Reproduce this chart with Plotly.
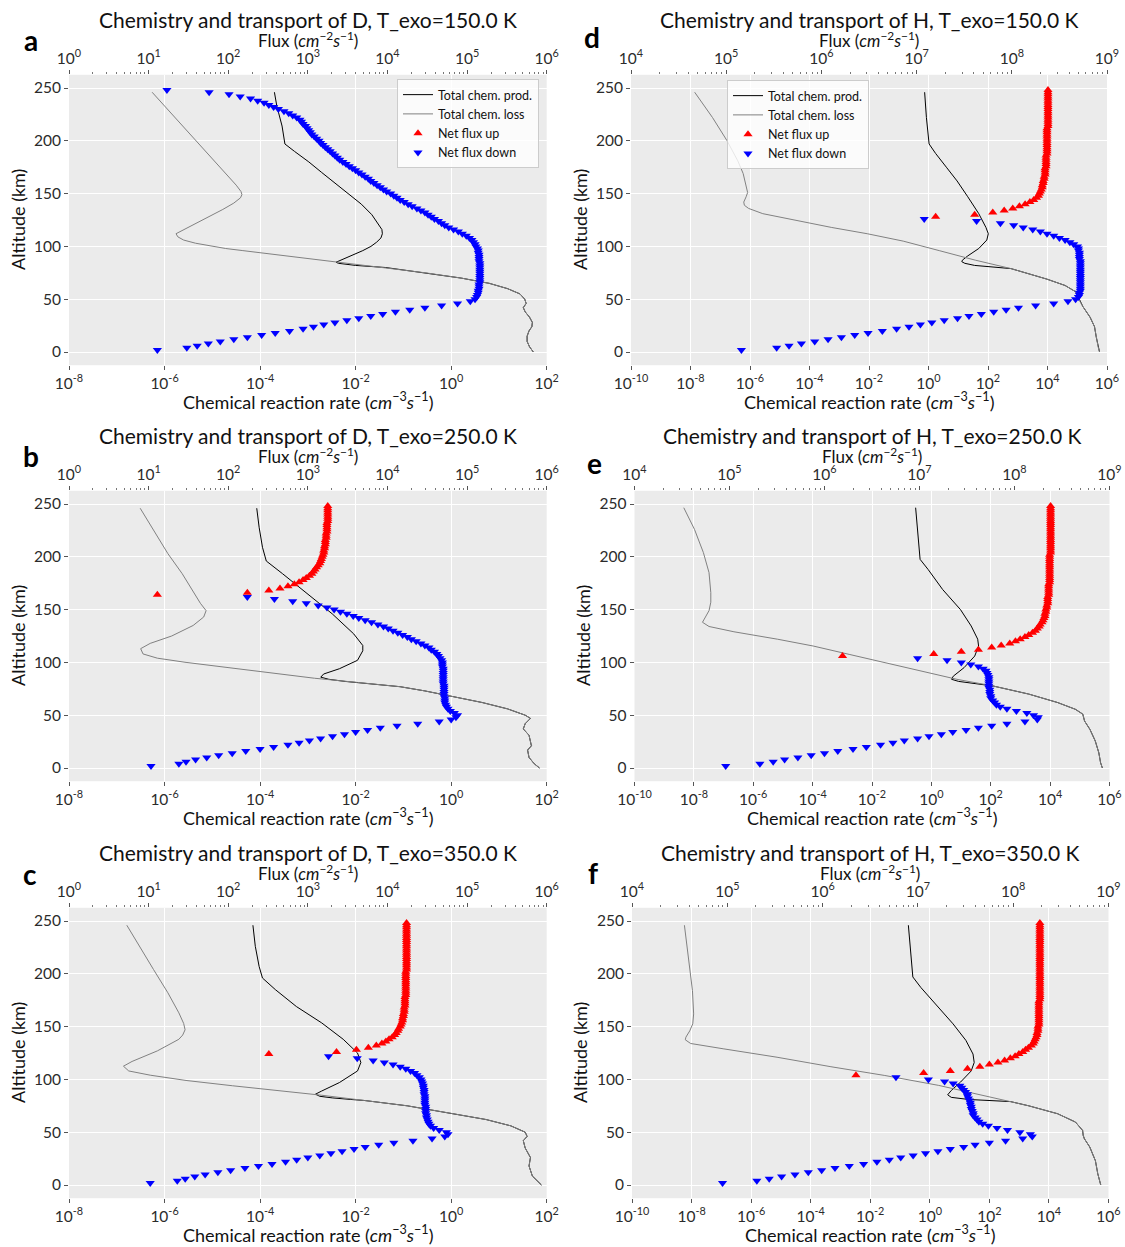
import numpy as np
import plotly.graph_objects as go

FIG_W, FIG_H = 1125, 1247
FONT = "Lato"
INK = "#111111"
TICK_INK = "#2b2b2b"
TICK_MARK = "#555555"
PANEL_BG = "#EBEBEB"

# Model altitude grid for the net-flux profiles (km)
ALT_KM = np.arange(2, 250, 2)

# log10 |net flux| (cm^-2 s^-1) on ALT_KM; flux is upward at and above *_UP_FROM_KM
LOGFLUX_D150 = [
    1.11, 1.48, 1.61, 1.75, 1.90, 2.07, 2.24, 2.42, 2.59, 2.77,
    2.94, 3.07, 3.20, 3.34, 3.49, 3.64, 3.79, 3.94, 4.10, 4.28,
    4.47, 4.68, 4.88, 5.04, 5.10, 5.12, 5.13, 5.14, 5.14, 5.15,
    5.15, 5.15, 5.16, 5.16, 5.16, 5.16, 5.16, 5.16, 5.16, 5.16,
    5.16, 5.16, 5.15, 5.15, 5.15, 5.15, 5.14, 5.14, 5.13, 5.11,
    5.10, 5.08, 5.06, 5.03, 4.99, 4.94, 4.89, 4.83, 4.77, 4.72,
    4.68, 4.64, 4.59, 4.55, 4.51, 4.47, 4.42, 4.37, 4.31, 4.26,
    4.21, 4.16, 4.12, 4.08, 4.04, 3.99, 3.95, 3.91, 3.87, 3.83,
    3.79, 3.76, 3.72, 3.68, 3.64, 3.60, 3.56, 3.52, 3.48, 3.44,
    3.40, 3.37, 3.34, 3.31, 3.28, 3.25, 3.22, 3.19, 3.16, 3.14,
    3.11, 3.08, 3.05, 3.03, 3.01, 2.99, 2.97, 2.94, 2.92, 2.90,
    2.86, 2.81, 2.76, 2.70, 2.63, 2.57, 2.51, 2.45, 2.37, 2.28,
    2.15, 2.01, 1.76, 1.23]
D150_UP_FROM_KM = None

LOGFLUX_D250 = [
    1.03, 1.38, 1.47, 1.59, 1.73, 1.88, 2.05, 2.22, 2.40, 2.57,
    2.75, 2.89, 3.02, 3.16, 3.31, 3.46, 3.60, 3.75, 3.91, 4.12,
    4.38, 4.65, 4.80, 4.86, 4.88, 4.84, 4.79, 4.76, 4.74, 4.73,
    4.72, 4.72, 4.72, 4.71, 4.71, 4.71, 4.71, 4.71, 4.71, 4.70,
    4.70, 4.70, 4.70, 4.70, 4.70, 4.70, 4.70, 4.69, 4.69, 4.69,
    4.68, 4.66, 4.64, 4.62, 4.59, 4.55, 4.52, 4.47, 4.42, 4.36,
    4.30, 4.25, 4.19, 4.13, 4.07, 4.01, 3.95, 3.88, 3.80, 3.72,
    3.64, 3.57, 3.49, 3.41, 3.33, 3.24, 3.13, 2.98, 2.81, 2.58,
    2.24, 1.11, 2.24, 2.51, 2.65, 2.75, 2.83, 2.89, 2.94, 2.98,
    3.02, 3.05, 3.07, 3.09, 3.11, 3.13, 3.15, 3.16, 3.17, 3.18,
    3.19, 3.20, 3.20, 3.21, 3.21, 3.22, 3.22, 3.22, 3.23, 3.23,
    3.23, 3.24, 3.24, 3.24, 3.24, 3.24, 3.25, 3.25, 3.25, 3.25,
    3.25, 3.25, 3.25, 3.25]
D250_UP_FROM_KM = 164

LOGFLUX_D350 = [
    1.02, 1.36, 1.46, 1.58, 1.71, 1.87, 2.03, 2.21, 2.38, 2.55,
    2.72, 2.86, 3.00, 3.15, 3.29, 3.43, 3.58, 3.72, 3.89, 4.08,
    4.32, 4.56, 4.72, 4.76, 4.74, 4.65, 4.58, 4.54, 4.52, 4.51,
    4.50, 4.49, 4.49, 4.48, 4.48, 4.48, 4.48, 4.47, 4.47, 4.47,
    4.47, 4.47, 4.46, 4.46, 4.46, 4.45, 4.45, 4.44, 4.43, 4.42,
    4.40, 4.37, 4.34, 4.29, 4.23, 4.16, 4.07, 3.96, 3.82, 3.62,
    3.26, 2.51, 3.36, 3.61, 3.76, 3.86, 3.93, 3.98, 4.02, 4.06,
    4.09, 4.11, 4.13, 4.14, 4.16, 4.17, 4.18, 4.19, 4.19, 4.20,
    4.20, 4.21, 4.21, 4.21, 4.22, 4.22, 4.22, 4.22, 4.22, 4.23,
    4.23, 4.23, 4.23, 4.23, 4.23, 4.23, 4.23, 4.23, 4.23, 4.23,
    4.23, 4.24, 4.24, 4.24, 4.24, 4.24, 4.24, 4.24, 4.24, 4.24,
    4.24, 4.24, 4.24, 4.24, 4.24, 4.24, 4.24, 4.24, 4.24, 4.24,
    4.24, 4.24, 4.24, 4.24]
D350_UP_FROM_KM = 124

LOGFLUX_H150 = [
    5.16, 5.53, 5.66, 5.79, 5.93, 6.07, 6.21, 6.35, 6.49, 6.64,
    6.79, 6.92, 7.04, 7.16, 7.29, 7.43, 7.55, 7.68, 7.81, 7.94,
    8.07, 8.25, 8.44, 8.59, 8.67, 8.70, 8.71, 8.71, 8.72, 8.72,
    8.72, 8.72, 8.72, 8.72, 8.72, 8.72, 8.72, 8.72, 8.72, 8.72,
    8.72, 8.72, 8.72, 8.71, 8.71, 8.71, 8.71, 8.70, 8.70, 8.69,
    8.65, 8.61, 8.56, 8.50, 8.44, 8.37, 8.30, 8.22, 8.12, 8.02,
    7.88, 7.63, 7.08, 7.20, 7.61, 7.80, 7.92, 8.01, 8.08, 8.14,
    8.19, 8.23, 8.26, 8.28, 8.29, 8.30, 8.31, 8.32, 8.32, 8.33,
    8.33, 8.34, 8.34, 8.35, 8.35, 8.35, 8.35, 8.36, 8.36, 8.36,
    8.36, 8.36, 8.36, 8.37, 8.37, 8.37, 8.37, 8.37, 8.37, 8.37,
    8.37, 8.37, 8.37, 8.37, 8.37, 8.37, 8.38, 8.38, 8.38, 8.38,
    8.38, 8.38, 8.38, 8.38, 8.38, 8.38, 8.38, 8.38, 8.38, 8.38,
    8.38, 8.38, 8.38, 8.38]
H150_UP_FROM_KM = 128

LOGFLUX_H250 = [
    4.96, 5.32, 5.46, 5.58, 5.72, 5.86, 6.00, 6.14, 6.30, 6.44,
    6.59, 6.72, 6.84, 6.98, 7.10, 7.23, 7.35, 7.49, 7.62, 7.76,
    7.92, 8.11, 8.24, 8.25, 8.20, 8.13, 8.02, 7.92, 7.85, 7.81,
    7.79, 7.77, 7.75, 7.75, 7.74, 7.74, 7.74, 7.73, 7.73, 7.73,
    7.73, 7.73, 7.73, 7.72, 7.71, 7.70, 7.67, 7.62, 7.54, 7.44,
    7.29, 6.98, 6.19, 7.15, 7.44, 7.62, 7.76, 7.86, 7.95, 8.01,
    8.06, 8.11, 8.15, 8.19, 8.22, 8.24, 8.26, 8.27, 8.29, 8.30,
    8.31, 8.32, 8.32, 8.33, 8.33, 8.34, 8.34, 8.35, 8.35, 8.35,
    8.35, 8.36, 8.36, 8.36, 8.36, 8.36, 8.36, 8.37, 8.37, 8.37,
    8.37, 8.37, 8.37, 8.37, 8.37, 8.37, 8.37, 8.37, 8.37, 8.37,
    8.37, 8.38, 8.38, 8.38, 8.38, 8.38, 8.38, 8.38, 8.38, 8.38,
    8.38, 8.38, 8.38, 8.38, 8.38, 8.38, 8.38, 8.38, 8.38, 8.38,
    8.38, 8.38, 8.38, 8.38]
H250_UP_FROM_KM = 106

LOGFLUX_H350 = [
    4.95, 5.31, 5.44, 5.57, 5.71, 5.85, 5.99, 6.13, 6.28, 6.43,
    6.57, 6.70, 6.82, 6.95, 7.08, 7.21, 7.34, 7.48, 7.60, 7.75,
    7.92, 8.10, 8.20, 8.18, 8.07, 7.94, 7.83, 7.74, 7.68, 7.64,
    7.62, 7.60, 7.58, 7.58, 7.57, 7.56, 7.56, 7.55, 7.55, 7.54,
    7.53, 7.52, 7.52, 7.50, 7.48, 7.46, 7.44, 7.37, 7.28, 7.11,
    6.77, 6.35, 7.06, 7.34, 7.52, 7.65, 7.75, 7.84, 7.91, 7.97,
    8.02, 8.06, 8.10, 8.13, 8.16, 8.19, 8.21, 8.22, 8.23, 8.24,
    8.25, 8.25, 8.26, 8.26, 8.26, 8.27, 8.27, 8.27, 8.27, 8.27,
    8.27, 8.27, 8.27, 8.27, 8.27, 8.27, 8.27, 8.28, 8.28, 8.28,
    8.28, 8.28, 8.28, 8.28, 8.28, 8.28, 8.28, 8.28, 8.28, 8.28,
    8.28, 8.28, 8.28, 8.28, 8.28, 8.28, 8.28, 8.28, 8.28, 8.28,
    8.28, 8.28, 8.28, 8.28, 8.28, 8.28, 8.28, 8.28, 8.28, 8.28,
    8.28, 8.28, 8.28, 8.28]
H350_UP_FROM_KM = 104

# Total chemical production / loss profiles: altitude (km) and log10 rate (cm^-3 s^-1)
PROD_ALT_D150 = [246, 233, 214, 197, 190, 180, 170, 160, 150, 140, 130, 122, 116, 112, 108, 104,
                 100, 96, 92, 88, 86, 85, 84, 82, 80, 75, 70, 65, 60, 55, 50, 46, 42, 38, 33, 28,
                 24, 20, 15, 10, 5, 0]
PROD_LOG_D150 = [-3.70, -3.65, -3.54, -3.48, -3.28, -2.98, -2.71, -2.43, -2.14, -1.88, -1.66, -1.53,
                 -1.45, -1.44, -1.47, -1.56, -1.68, -1.85, -2.05, -2.28, -2.38, -2.41, -2.36, -2.00,
                 -1.37, -0.54, 0.21, 0.80, 1.18, 1.44, 1.54, 1.57, 1.51, 1.55, 1.64, 1.70, 1.69,
                 1.63, 1.59, 1.59, 1.64, 1.72]
LOSS_ALT_D150 = [246, 220, 200, 180, 165, 158, 152, 149, 146, 141, 135, 128, 120, 115, 112, 109,
                 106, 103, 100, 98, 96, 92, 88, 84, 80, 75, 70, 65, 60, 55, 50, 46, 42, 38, 33, 28,
                 24, 20, 15, 10, 5, 0]
LOSS_LOG_D150 = [-6.26, -5.74, -5.33, -4.93, -4.63, -4.50, -4.40, -4.38, -4.41, -4.55, -4.78, -5.08,
                 -5.42, -5.66, -5.76, -5.72, -5.60, -5.35, -5.00, -4.72, -4.36, -3.61, -2.86, -2.11,
                 -1.37, -0.54, 0.21, 0.80, 1.18, 1.44, 1.54, 1.57, 1.51, 1.55, 1.64, 1.70, 1.69,
                 1.63, 1.59, 1.59, 1.64, 1.72]

PROD_ALT_D250 = [246, 228, 209, 196, 184, 165, 146, 127, 116, 111, 102, 94, 89, 86, 84, 82, 81, 77,
                 73, 69, 62, 56, 50, 47, 42, 37, 31, 21, 17, 10, 4, 0]
PROD_LOG_D250 = [-4.07, -4.02, -3.95, -3.87, -3.53, -3.01, -2.49, -2.04, -1.85, -1.85, -1.96, -2.34,
                 -2.67, -2.73, -2.56, -2.22, -1.96, -1.07, -0.55, -0.09, 0.65, 1.18, 1.55, 1.66,
                 1.55, 1.51, 1.63, 1.68, 1.60, 1.63, 1.74, 1.85]
LOSS_ALT_D250 = [246, 225, 203, 184, 165, 156, 149, 143, 135, 125, 118, 113, 108, 104, 100, 95, 90,
                 85, 81, 77, 73, 69, 62, 56, 50, 47, 42, 37, 31, 21, 17, 10, 4, 0]
LOSS_LOG_D250 = [-6.51, -6.23, -5.93, -5.63, -5.37, -5.25, -5.13, -5.18, -5.40, -5.85, -6.30, -6.50,
                 -6.45, -6.15, -5.55, -4.66, -3.76, -2.86, -1.96, -1.07, -0.55, -0.09, 0.65, 1.18,
                 1.55, 1.66, 1.55, 1.51, 1.63, 1.68, 1.60, 1.63, 1.74, 1.85]

PROD_ALT_D350 = [246, 226, 207, 196, 185, 169, 153.5, 138, 125, 116, 108, 97, 89, 86, 84, 82.5, 81,
                 80, 75, 68, 62, 56, 50, 46, 42, 35, 26, 18, 8.5, 0]
PROD_LOG_D350 = [-4.15, -4.10, -4.02, -3.95, -3.68, -3.24, -2.71, -2.26, -1.96, -1.89, -1.96, -2.34,
                 -2.71, -2.84, -2.75, -2.49, -2.10, -1.81, -0.92, -0.02, 0.73, 1.25, 1.55, 1.59,
                 1.51, 1.55, 1.66, 1.63, 1.70, 1.89]
LOSS_ALT_D350 = [246, 226, 204, 182, 163, 153, 147, 142, 138, 127, 117, 112.5, 108, 104, 99, 94,
                 89.5, 85, 80, 75, 68, 62, 56, 50, 46, 42, 35, 26, 18, 8.5, 0]
LOSS_LOG_D350 = [-6.79, -6.53, -6.23, -5.93, -5.70, -5.60, -5.57, -5.62, -5.70, -6.15, -6.68, -6.86,
                 -6.75, -6.30, -5.55, -4.58, -3.61, -2.71, -1.81, -0.92, -0.02, 0.73, 1.25, 1.55,
                 1.59, 1.51, 1.55, 1.66, 1.63, 1.70, 1.89]

PROD_ALT_H150 = [246, 222, 197, 188, 175, 162, 147, 131, 118, 112, 106, 98, 91, 87, 85.5, 84, 82,
                 80, 79, 69, 63, 57, 53, 49, 43, 33, 24, 14, 5, 0]
PROD_LOG_H150 = [-0.13, -0.07, 0.02, 0.24, 0.60, 0.96, 1.32, 1.69, 1.93, 2.01, 1.96, 1.69, 1.32,
                 1.14, 1.12, 1.22, 1.55, 2.30, 2.77, 3.98, 4.59, 4.95, 5.02, 5.07, 5.19, 5.43,
                 5.58, 5.64, 5.70, 5.75]
LOSS_ALT_H150 = [246, 222, 200, 181, 169, 156, 151, 147, 142, 139, 136, 131, 124.5, 118, 112, 105,
                 96, 87, 79, 69, 63, 57, 53, 49, 43, 33, 24, 14, 5, 0]
LOSS_LOG_H150 = [-7.86, -7.26, -6.77, -6.41, -6.23, -6.11, -6.08, -6.13, -6.21, -6.19, -6.05, -5.57,
                 -4.48, -3.27, -2.06, -0.85, 0.36, 1.57, 2.77, 3.98, 4.59, 4.95, 5.02, 5.07, 5.19,
                 5.43, 5.58, 5.64, 5.70, 5.75]

PROD_ALT_H250 = [246.5, 226, 197.6, 188, 169, 150, 134.5, 122, 115.5, 106, 95, 87, 84, 82, 80, 77.7,
                 70, 62, 55.6, 51, 44.5, 36.6, 25.6, 14.5, 5, 0]
PROD_LOG_H250 = [-0.53, -0.47, -0.38, -0.11, 0.38, 0.98, 1.34, 1.56, 1.59, 1.46, 1.10, 0.74, 0.68,
                 0.92, 1.40, 2.07, 3.28, 4.25, 4.85, 5.10, 5.16, 5.34, 5.52, 5.64, 5.70, 5.76]
LOSS_ALT_H250 = [246.5, 226, 204, 185, 166, 157, 149, 142, 138, 134, 129, 122, 115.5, 107.6, 99.7,
                 92, 84, 77.7, 70, 62, 55.6, 51, 44.5, 36.6, 25.6, 14.5, 5, 0]
LOSS_LOG_H250 = [-8.34, -7.98, -7.68, -7.49, -7.43, -7.43, -7.49, -7.64, -7.71, -7.49, -6.65, -5.19,
                 -3.98, -2.77, -1.56, -0.35, 0.86, 2.07, 3.28, 4.25, 4.85, 5.10, 5.16, 5.34, 5.52,
                 5.64, 5.70, 5.76]

PROD_ALT_H350 = [246, 225, 197, 187, 171.5, 152.6, 137, 124, 116, 108, 97.4, 89.5, 85.4, 83, 81, 79,
                 75, 67.5, 59.6, 51.7, 47, 43.8, 36, 23, 10.7, 0]
PROD_LOG_H350 = [-0.72, -0.66, -0.57, -0.30, 0.18, 0.78, 1.21, 1.45, 1.49, 1.39, 1.03, 0.72, 0.60,
                 0.72, 1.30, 2.71, 3.32, 4.29, 4.89, 5.13, 5.15, 5.19, 5.37, 5.56, 5.64, 5.74]
LOSS_ALT_H350 = [246, 225, 203, 184, 162, 152.6, 146, 140, 137.5, 134, 129, 121, 112, 103.7, 94.3,
                 83, 75, 67.5, 59.6, 51.7, 47, 43.8, 36, 23, 10.7, 0]
LOSS_LOG_H350 = [-8.24, -8.15, -8.06, -7.97, -7.93, -7.96, -8.06, -8.19, -8.21, -8.03, -6.94, -5.13,
                 -3.32, -1.51, 0.30, 2.11, 3.32, 4.29, 4.89, 5.13, 5.15, 5.19, 5.37, 5.56, 5.64, 5.74]

# Axis decades: (bottom rate axis, top flux axis)
D_RATE_DECADES, D_FLUX_DECADES = (-8, 2), (0, 6)
H_RATE_DECADES, H_FLUX_DECADES = (-10, 6), (4, 9)

PANELS = [
    dict(letter="a", species="D", t_exo=150.0, logflux=LOGFLUX_D150, up_from=D150_UP_FROM_KM,
         prod=(PROD_ALT_D150, PROD_LOG_D150), loss=(LOSS_ALT_D150, LOSS_LOG_D150),
         rate=D_RATE_DECADES, flux=D_FLUX_DECADES, legend="legend"),
    dict(letter="b", species="D", t_exo=250.0, logflux=LOGFLUX_D250, up_from=D250_UP_FROM_KM,
         prod=(PROD_ALT_D250, PROD_LOG_D250), loss=(LOSS_ALT_D250, LOSS_LOG_D250),
         rate=D_RATE_DECADES, flux=D_FLUX_DECADES, legend=None),
    dict(letter="c", species="D", t_exo=350.0, logflux=LOGFLUX_D350, up_from=D350_UP_FROM_KM,
         prod=(PROD_ALT_D350, PROD_LOG_D350), loss=(LOSS_ALT_D350, LOSS_LOG_D350),
         rate=D_RATE_DECADES, flux=D_FLUX_DECADES, legend=None),
    dict(letter="d", species="H", t_exo=150.0, logflux=LOGFLUX_H150, up_from=H150_UP_FROM_KM,
         prod=(PROD_ALT_H150, PROD_LOG_H150), loss=(LOSS_ALT_H150, LOSS_LOG_H150),
         rate=H_RATE_DECADES, flux=H_FLUX_DECADES, legend="legend2"),
    dict(letter="e", species="H", t_exo=250.0, logflux=LOGFLUX_H250, up_from=H250_UP_FROM_KM,
         prod=(PROD_ALT_H250, PROD_LOG_H250), loss=(LOSS_ALT_H250, LOSS_LOG_H250),
         rate=H_RATE_DECADES, flux=H_FLUX_DECADES, legend=None),
    dict(letter="f", species="H", t_exo=350.0, logflux=LOGFLUX_H350, up_from=H350_UP_FROM_KM,
         prod=(PROD_ALT_H350, PROD_LOG_H350), loss=(LOSS_ALT_H350, LOSS_LOG_H350),
         rate=H_RATE_DECADES, flux=H_FLUX_DECADES, legend=None),
]

# Page geometry in pixels: plot-area left/right edge, altitude-zero line, panel-letter spot
GEOM = {
    "a": dict(x=(69.0, 546.7), zero=352.0, letter=(21.5, 39.5), ytitle=18.0),
    "b": dict(x=(69.0, 546.7), zero=768.0, letter=(21.0, 455.5), ytitle=18.0),
    "c": dict(x=(69.0, 546.7), zero=1185.0, letter=(21.0, 873.5), ytitle=18.0),
    "d": dict(x=(631.0, 1107.0), zero=352.0, letter=(581.5, 36.5), ytitle=580.0),
    "e": dict(x=(634.5, 1109.5), zero=768.0, letter=(585.0, 462.5), ytitle=583.0),
    "f": dict(x=(632.0, 1108.5), zero=1185.0, letter=(586.0, 872.5), ytitle=580.0),
}
PX_PER_KM = 1.056
Y_LO, Y_HI = -12.5, 262.5


def px_x(v):
    return v / FIG_W


def px_y(v):
    return 1.0 - v / FIG_H


def power_labels(lo, hi, step):
    exps = list(range(lo, hi + 1, step))
    vals = [10.0 ** e for e in exps]
    text = [f"10<sup>{e}</sup>" for e in exps]
    return vals, text


def minor_vals(lo, hi):
    return [m * 10.0 ** e for e in range(lo, hi) for m in range(2, 10)]


def axis_name(kind, n):
    return kind if n == 1 else f"{kind}{n}"


tick_font = dict(family=FONT, size=15.5, color=TICK_INK)
label_font = dict(family=FONT, size=18, color=INK)
flux_font = dict(family=FONT, size=17, color=INK)
fig = go.Figure()
layout = {}
annotations = []

for i, p in enumerate(PANELS):
    g = GEOM[p["letter"]]
    nb, nt, ny = 2 * i + 1, 2 * i + 2, i + 1
    xb_ref, xt_ref, y_ref = axis_name("x", nb), axis_name("x", nt), axis_name("y", ny)

    top_px = g["zero"] - Y_HI * PX_PER_KM
    bot_px = g["zero"] - Y_LO * PX_PER_KM
    x0, x1 = g["x"]
    xc = 0.5 * (x0 + x1)

    rlo, rhi = p["rate"]
    flo, fhi = p["flux"]
    rvals, rtext = power_labels(rlo, rhi, 2)
    fvals, ftext = power_labels(flo, fhi, 1)

    layout[axis_name("xaxis", nb)] = dict(
        type="log", range=[rlo, rhi], domain=[px_x(x0), px_x(x1)], anchor=y_ref,
        tickmode="array", tickvals=rvals, ticktext=rtext, ticks="outside", ticklen=4,
        tickwidth=1, tickcolor=TICK_MARK, showgrid=True, gridcolor="white", gridwidth=1,
        zeroline=False, showline=False, tickfont=tick_font, automargin=False,
    )
    layout[axis_name("xaxis", nt)] = dict(
        type="log", range=[flo, fhi], overlaying=xb_ref, side="top", anchor=y_ref,
        tickmode="array", tickvals=fvals, ticktext=ftext, ticks="outside", ticklen=4,
        tickwidth=1, tickcolor=TICK_MARK, showgrid=False, zeroline=False, showline=False,
        tickfont=tick_font, automargin=False,
        minor=dict(tickmode="array", tickvals=minor_vals(flo, fhi), ticks="outside",
                   ticklen=2, tickwidth=1, tickcolor="#777777", showgrid=False),
    )
    layout[axis_name("yaxis", ny)] = dict(
        range=[Y_LO, Y_HI], domain=[px_y(bot_px), px_y(top_px)], anchor=xb_ref,
        tickmode="array", tickvals=[0, 50, 100, 150, 200, 250], ticks="outside", ticklen=4,
        tickwidth=1, tickcolor=TICK_MARK, showgrid=True, gridcolor="white", gridwidth=1,
        zeroline=False, showline=False, tickfont=tick_font, automargin=False,
    )

    show = p["legend"] is not None
    leg = p["legend"] if show else "legend"

    # chemistry profiles on the bottom (rate) axis
    for (alts, logs), name, color in ((p["prod"], "Total chem. prod.", "black"),
                                      (p["loss"], "Total chem. loss", "gray")):
        fig.add_trace(go.Scatter(
            x=10.0 ** np.asarray(logs), y=alts, mode="lines", name=name,
            line=dict(color=color, width=1), xaxis=xb_ref, yaxis=y_ref,
            showlegend=show, legend=leg, hoverinfo="skip",
        ))

    # net flux markers on the top (flux) axis
    alt = np.asarray(ALT_KM, dtype=float)
    flux = 10.0 ** np.asarray(p["logflux"])
    up_mask = (alt >= p["up_from"]) if p["up_from"] is not None else np.zeros(alt.size, bool)
    for mask, name, color, symbol in ((up_mask, "Net flux up", "red", "triangle-up"),
                                      (~up_mask, "Net flux down", "blue", "triangle-down")):
        xs, ys = flux[mask].tolist(), alt[mask].tolist()
        if not xs:
            xs, ys = [None], [None]
        fig.add_trace(go.Scatter(
            x=xs, y=ys, mode="markers", name=name,
            marker=dict(symbol=symbol, size=8, color=color, line=dict(width=0)),
            xaxis=xt_ref, yaxis=y_ref, showlegend=show, legend=leg, hoverinfo="skip",
        ))

    # panel texts
    annotations += [
        dict(text=f"Chemistry and transport of {p['species']}, T_exo={p['t_exo']:.1f} K",
             x=px_x(xc), y=px_y(g["zero"] - 332.5), xanchor="center", yanchor="middle",
             font=dict(family=FONT, size=21, color=INK)),
        dict(text="Flux (<i>cm</i><sup>−2</sup><i>s</i><sup>−1</sup>)",
             x=px_x(xc), y=px_y(g["zero"] - 313.0), xanchor="center", yanchor="middle",
             font=flux_font),
        dict(text="Chemical reaction rate (<i>cm</i><sup>−3</sup><i>s</i><sup>−1</sup>)",
             x=px_x(xc), y=px_y(g["zero"] + 49.0), xanchor="center", yanchor="middle",
             font=label_font),
        dict(text="Altitude (km)", textangle=-90,
             x=px_x(g["ytitle"]), y=px_y(g["zero"] - 132.0), xanchor="center", yanchor="middle",
             font=label_font),
        dict(text=f"<b>{p['letter']}</b>",
             x=px_x(g["letter"][0]), y=px_y(g["letter"][1]), xanchor="left", yanchor="middle",
             font=dict(family=FONT, size=28, color="black")),
    ]

legend_style = dict(
    xanchor="left", yanchor="top", bgcolor="rgba(255,255,255,0.8)", bordercolor="#cccccc",
    borderwidth=1, font=dict(family=FONT, size=12.5, color=INK), tracegroupgap=0,
    itemwidth=30, traceorder="normal",
)
layout["legend"] = dict(x=px_x(397), y=px_y(79), **legend_style)
layout["legend2"] = dict(x=px_x(727), y=px_y(80), **legend_style)

for a in annotations:
    a.update(xref="paper", yref="paper", showarrow=False)

fig.update_layout(
    width=FIG_W, height=FIG_H, margin=dict(l=0, r=0, t=0, b=0, autoexpand=False),
    paper_bgcolor="white", plot_bgcolor=PANEL_BG,
    font=dict(family=FONT, color=INK), annotations=annotations, **layout,
)

fig.write_html("out.html")
